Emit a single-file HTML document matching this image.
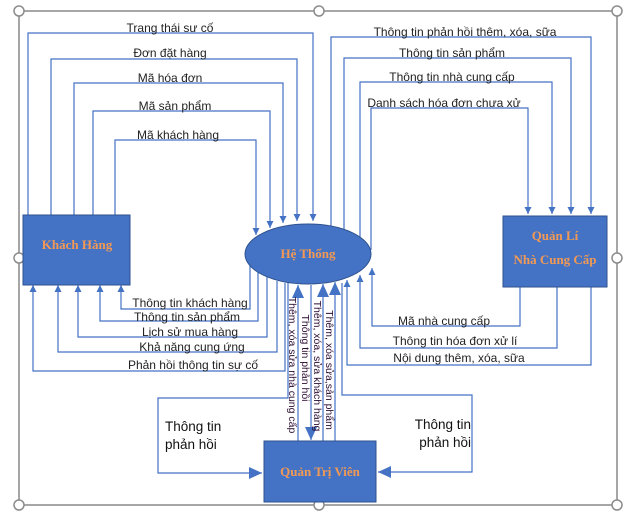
<!DOCTYPE html>
<html><head><meta charset="utf-8"><style>
html,body{margin:0;padding:0;background:#fff;width:634px;height:515px;overflow:hidden}
text{font-family:"Liberation Sans",sans-serif;font-size:12px;fill:#222}
.b{font-family:"Liberation Serif",serif;font-weight:bold;font-size:13px;fill:#f29a55}
.v{font-size:10.5px;fill:#2a0a30}
</style></head><body>
<svg width="634" height="515" viewBox="0 0 634 515" xmlns="http://www.w3.org/2000/svg">
<defs>
<marker id="a" markerWidth="8" markerHeight="8" refX="7" refY="4" orient="auto" markerUnits="userSpaceOnUse"><path d="M0,0.5 L7,4 L0,7.5z" fill="#4472c4"/></marker>
<marker id="A" markerWidth="14" markerHeight="12" refX="13" refY="6" orient="auto" markerUnits="userSpaceOnUse"><path d="M0,0 L13,6 L0,12z" fill="#4472c4"/></marker>
</defs>
<rect x="19" y="11" width="598" height="494" fill="none" stroke="#a6a6a6" stroke-width="2"/>
<g fill="#fff" stroke="#8c8c8c" stroke-width="1.5">
<circle cx="19" cy="11" r="5"/><circle cx="319" cy="11" r="5"/><circle cx="617" cy="11" r="5"/>
<circle cx="19" cy="258" r="5"/><circle cx="617" cy="258" r="5"/>
<circle cx="19" cy="505" r="5"/><circle cx="319" cy="505" r="5"/><circle cx="617" cy="505" r="5"/>
</g>
<g fill="none" stroke="#4472c4" stroke-width="1.2">
<path d="M28,215 V33 H313 V221" marker-end="url(#a)"/>
<path d="M51,215 V59 H297 V221" marker-end="url(#a)"/>
<path d="M74,215 V83 H283 V223" marker-end="url(#a)"/>
<path d="M93,215 V111 H270 V228" marker-end="url(#a)"/>
<path d="M115,215 V140 H256 V235" marker-end="url(#a)"/>
<path d="M331,226 V37 H591 V214" marker-end="url(#a)"/>
<path d="M344,230 V58 H571 V214" marker-end="url(#a)"/>
<path d="M360,238 V82 H552 V214" marker-end="url(#a)"/>
<path d="M371,250 V108 H528 V214" marker-end="url(#a)"/>
<path d="M250,264 V309 H121 V285" marker-end="url(#a)"/>
<path d="M258,272 V321 H100 V285" marker-end="url(#a)"/>
<path d="M267,277 V337 H78 V285" marker-end="url(#a)"/>
<path d="M277,281 V352 H58 V285" marker-end="url(#a)"/>
<path d="M285,283 V371 H33 V285" marker-end="url(#a)"/>
<path d="M520,287 V326 H372 V268" marker-end="url(#a)"/>
<path d="M557,287 V348 H360 V275" marker-end="url(#a)"/>
<path d="M591,287 V365 H347 V280" marker-end="url(#a)"/>
<path d="M288,282 V398 H158 V473 H262" marker-end="url(#A)"/>
<path d="M342,283 V395 H472 V472 H378" marker-end="url(#A)"/>
<path d="M298,441 V285" marker-end="url(#A)"/>
<path d="M311,285 V440" marker-end="url(#A)"/>
<path d="M323,441 V284" marker-end="url(#A)"/>
<path d="M335,441 V282" marker-end="url(#A)"/>
</g>
<g fill="#4472c4" stroke="#2f528f" stroke-width="1">
<rect x="23" y="215" width="107" height="70"/>
<rect x="503" y="216" width="104" height="71"/>
<rect x="264" y="441" width="112" height="61"/>
<ellipse cx="308" cy="254" rx="63" ry="30"/>
</g>
<text class="b" x="77" y="249" text-anchor="middle">Khách Hàng</text>
<text class="b" x="308" y="258" text-anchor="middle">Hệ Thống</text>
<text class="b" x="555" y="240" text-anchor="middle">Quản Lí</text>
<text class="b" x="555" y="264" text-anchor="middle">Nhà Cung Cấp</text>
<text class="b" x="320" y="476" text-anchor="middle">Quản Trị Viên</text>
<g text-anchor="middle">
<text x="170" y="32">Trang thái sư cố</text>
<text x="170" y="57">Đơn đặt hàng</text>
<text x="170" y="82">Mã hóa đơn</text>
<text x="175" y="110">Mã sản phẩm</text>
<text x="178" y="139">Mã khách hàng</text>
<text x="465" y="36">Thông tin phản hồi thêm, xóa, sữa</text>
<text x="452" y="57">Thông tin sản phẩm</text>
<text x="452" y="81">Thông tin nhà cung cấp</text>
<text x="444" y="107">Danh sách hóa đơn chưa xử</text>
<text x="190" y="307">Thông tin khách hàng</text>
<text x="187" y="321">Thông tin sản phẩm</text>
<text x="190" y="336">Lịch sử mua hàng</text>
<text x="192" y="351">Khả năng cung ứng</text>
<text x="193" y="369">Phản hồi thông tin sự cố</text>
<text x="444" y="325">Mã nhà cung cấp</text>
<text x="455" y="345">Thông tin hóa đơn xử lí</text>
<text x="459" y="362">Nội dung thêm, xóa, sữa</text>
</g>
<text x="165" y="431" style="font-size:13.5px;fill:#111">Thông tin</text>
<text x="165" y="449" style="font-size:13.5px;fill:#111">phản hồi</text>
<text x="471" y="429" text-anchor="end" style="font-size:13.5px;fill:#111">Thông tin</text>
<text x="471" y="447" text-anchor="end" style="font-size:13.5px;fill:#111">phản hồi</text>
<g text-anchor="middle">
<text class="v" transform="translate(289,365) rotate(90)">Thêm, xóa sửa nhà cung cấp</text>
<text class="v" transform="translate(302,358) rotate(90)">Thông tin phản hồi</text>
<text class="v" transform="translate(314,366) rotate(90)">Thêm, xóa, sửa khách hàng</text>
<text class="v" transform="translate(326,370) rotate(90)">Thêm, xóa sửa,sản phẩm</text>
</g>
</svg>
</body></html>
